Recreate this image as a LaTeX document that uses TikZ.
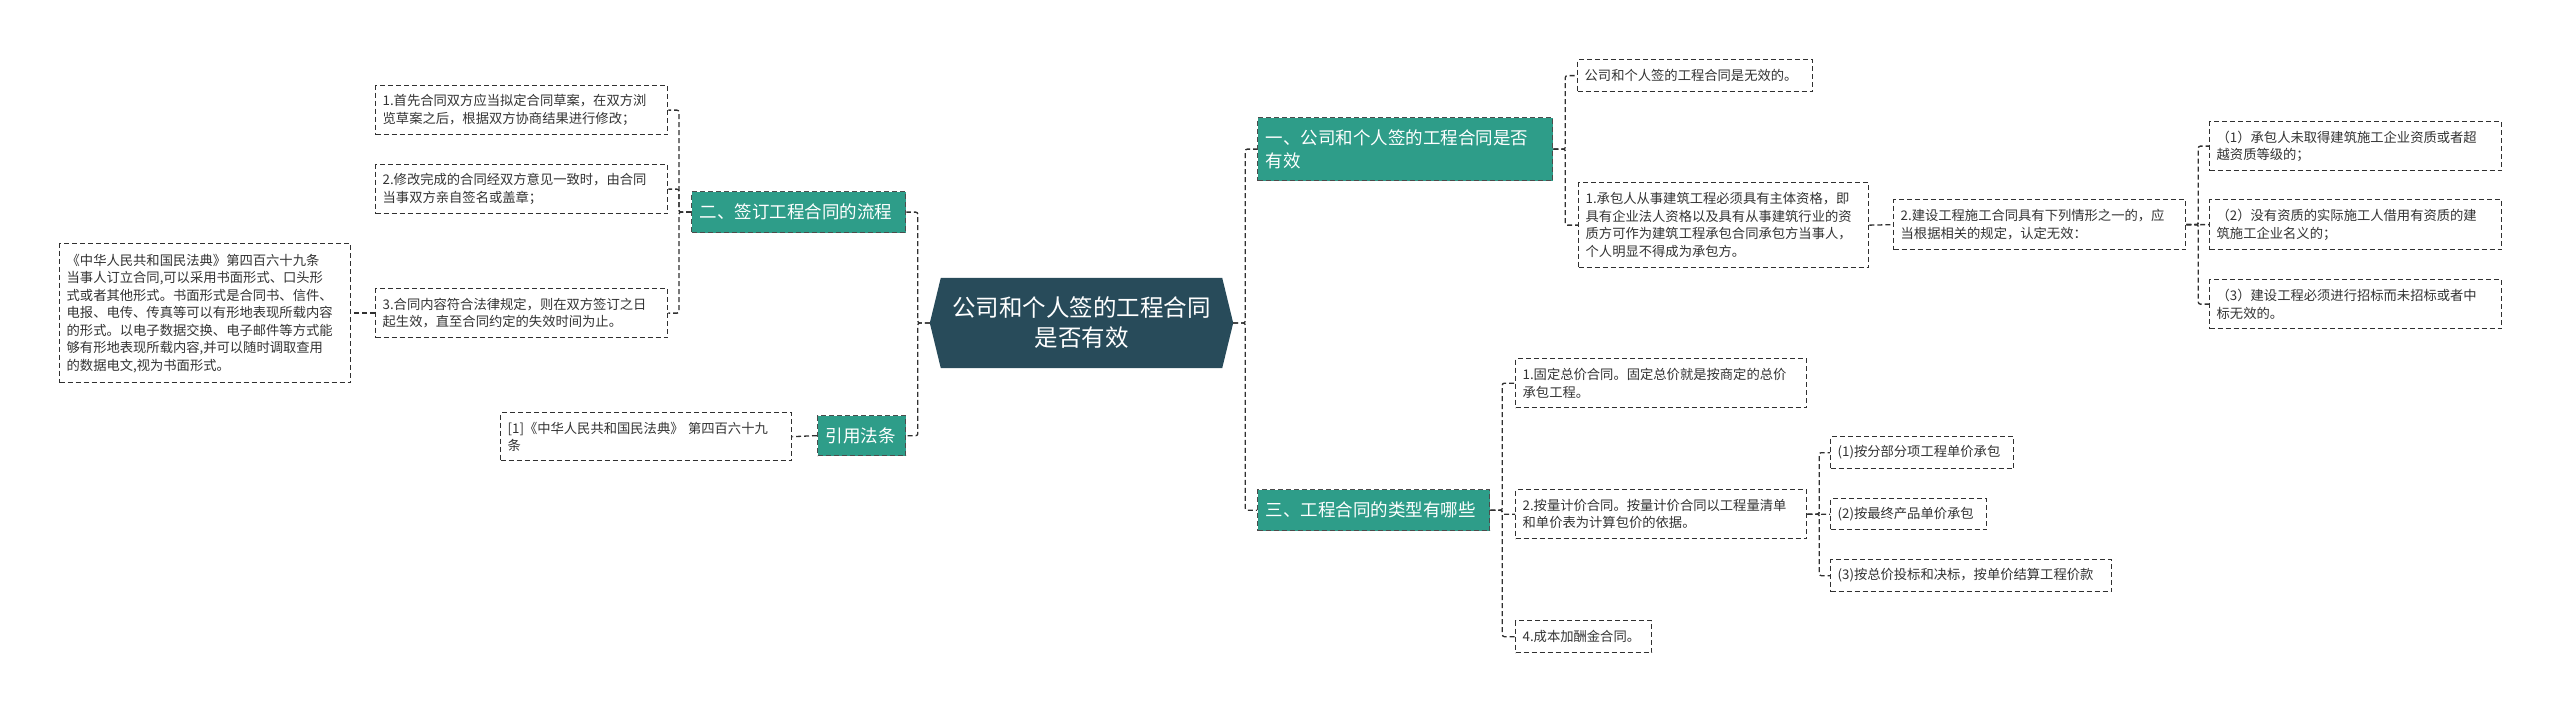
\documentclass[tikz,border=0pt]{standalone}
\usepackage{fontspec}
\setmainfont{Noto Sans CJK SC}
\usetikzlibrary{					% bibliotheken
positioning,
backgrounds,
calc
}
\definecolor{kopf}{HTML}{284B5A}
\definecolor{zweig}{HTML}{2E9D89}
\definecolor{linie}{HTML}{303030}
\definecolor{schrift}{HTML}{333333}

\tikzset{
link/.style={draw=linie, line width=1.3pt, dash pattern=on 5pt off 3pt, rounded corners=2pt},
blatt/.style={draw=linie, line width=1.3pt, dash pattern=on 5pt off 3pt, fill=white, text=schrift,
  anchor=north west, align=left, inner xsep=7pt, inner ysep=0pt,
  font=\fontsize{13.3}{17.5}\selectfont, minimum height=49pt},
ast/.style={draw=black!70, line width=1.3pt, dash pattern=on 5pt off 3pt, fill=zweig, text=white,
  anchor=north west, align=left, inner xsep=8pt, inner ysep=0pt,
  font=\fontsize{17.5}{23}\selectfont, minimum height=41pt},
wurzel/.style={text=white, align=center, inner sep=0pt, minimum width=303pt, minimum height=90pt,
  font=\fontsize{23.5}{30}\selectfont}
}

\begin{document}
\begin{tikzpicture}[x=1pt, y=-1pt]
\useasboundingbox (0,0) rectangle (2560,711);

\node[wurzel] (root) at (1081.5,323) {公司和个人签的工程合同\\是否有效};
\begin{scope}[on background layer]
\fill[kopf] (root.west) -- ([xshift=11pt]root.north west) -- ([xshift=-11pt]root.north east) -- (root.east)
  -- ([xshift=-11pt]root.south east) -- ([xshift=11pt]root.south west) -- cycle;
\end{scope}

% links
\node[ast, text width=198pt] (flow) at (691,191) {二、签订工程合同的流程};
\node[ast, text width=72pt, minimum height=40pt] (cite) at (817,415) {引用法条};

\node[blatt, text width=278pt] (a1) at (375,85) {1.首先合同双方应当拟定合同草案，在双方浏\\览草案之后，根据双方协商结果进行修改；};
\node[blatt, text width=278pt] (a2) at (375,164) {2.修改完成的合同经双方意见一致时，由合同\\当事双方亲自签名或盖章；};
\node[blatt, text width=278pt] (a3) at (375,288) {3.合同内容符合法律规定，则在双方签订之日\\起生效，直至合同约定的失效时间为止。};
\node[blatt, text width=277pt, minimum height=139pt] (law) at (59,243) {《中华人民共和国民法典》第四百六十九条\\当事人订立合同,可以采用书面形式、口头形\\式或者其他形式。书面形式是合同书、信件、\\电报、电传、传真等可以有形地表现所载内容\\的形式。以电子数据交换、电子邮件等方式能\\够有形地表现所载内容,并可以随时调取查用\\的数据电文,视为书面形式。};
\node[blatt, text width=277pt, minimum height=48pt] (ref) at (500,412) {[1]《中华人民共和国民法典》 第四百六十九\\条};

% rechts
\node[ast, text width=279pt, minimum height=63pt] (n1) at (1257,117) {一、公司和个人签的工程合同是否\\有效};
\node[ast, text width=216pt] (n3) at (1257,489) {三、工程合同的类型有哪些};

\node[blatt, text width=221pt, minimum height=32pt] (b0) at (1577,59) {公司和个人签的工程合同是无效的。};
\node[blatt, text width=276pt, minimum height=85pt] (b1) at (1578,182) {1.承包人从事建筑工程必须具有主体资格，即\\具有企业法人资格以及具有从事建筑行业的资\\质方可作为建筑工程承包合同承包方当事人，\\个人明显不得成为承包方。};
\node[blatt, text width=278pt, minimum height=50pt] (b2) at (1893,199) {2.建设工程施工合同具有下列情形之一的，应\\当根据相关的规定，认定无效：};

\node[blatt, text width=278pt] (c1) at (2209,121) {（1）承包人未取得建筑施工企业资质或者超\\越资质等级的；};
\node[blatt, text width=278pt, minimum height=50pt] (c2) at (2209,199) {（2）没有资质的实际施工人借用有资质的建\\筑施工企业名义的；};
\node[blatt, text width=278pt] (c3) at (2209,279) {（3）建设工程必须进行招标而未招标或者中\\标无效的。};

\node[blatt, text width=277pt] (d1) at (1515,358) {1.固定总价合同。固定总价就是按商定的总价\\承包工程。};
\node[blatt, text width=277pt] (d2) at (1515,489) {2.按量计价合同。按量计价合同以工程量清单\\和单价表为计算包价的依据。};
\node[blatt, text width=122pt, minimum height=32pt] (d4) at (1515,620) {4.成本加酬金合同。};

\node[blatt, text width=169pt, minimum height=32pt] (e1) at (1830,436) {(1)按分部分项工程单价承包};
\node[blatt, text width=142pt, minimum height=31pt] (e2) at (1830,498) {(2)按最终产品单价承包};
\node[blatt, text width=267pt, minimum height=32pt] (e3) at (1830,559) {(3)按总价投标和决标，按单价结算工程价款};

% verbindungen links
\draw[link] (root.west) -- ++(-12,0) |- (flow.east);
\draw[link] (root.west) -- ++(-12,0) |- (cite.east);
\foreach \n in {a1,a2,a3}
{   \draw[link] (flow.west) -- ++(-12,0) |- (\n.east);
}
\draw[link] (a3.west) -- (law.east);
\draw[link] (cite.west) -- (ref.east);

% verbindungen rechts
\foreach \n in {n1,n3}
{   \draw[link] (root.east) -- ++(12,0) |- (\n.west);
}
\foreach \n in {b0,b1}
{   \draw[link] (n1.east) -- ++(12,0) |- (\n.west);
}
\draw[link] (b1.east) -- (b2.west);
\foreach \n in {c1,c2,c3}
{   \draw[link] (b2.east) -- ++(12,0) |- (\n.west);
}
\foreach \n in {d1,d2,d4}
{   \draw[link] (n3.east) -- ++(12,0) |- (\n.west);
}
\foreach \n in {e1,e2,e3}
{   \draw[link] (d2.east) -- ++(12,0) |- (\n.west);
}
\end{tikzpicture}
\end{document}
